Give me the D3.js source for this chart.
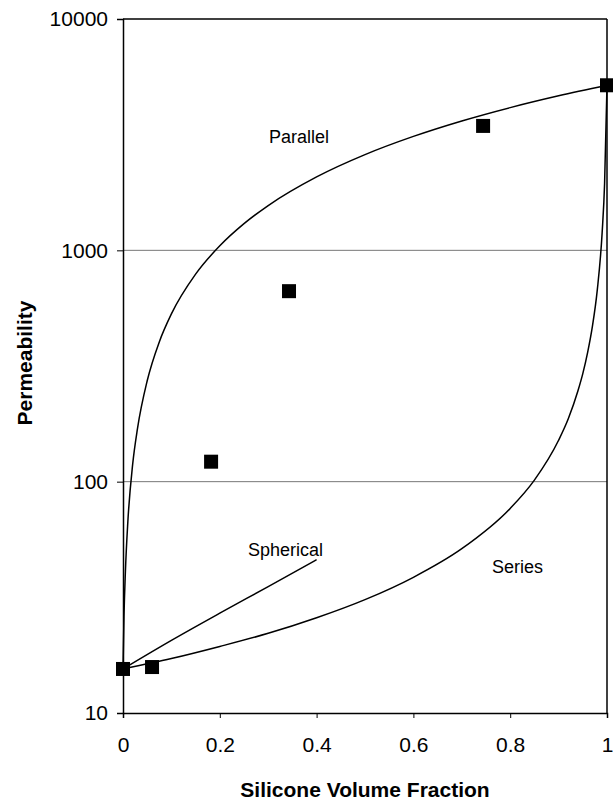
<!DOCTYPE html>
<html>
<head>
<meta charset="utf-8">
<script src="https://cdn.jsdelivr.net/npm/d3@7"></script>
<style>
  body { margin: 0; background: #fff; }
  text { font-family: Arial, "Liberation Sans", sans-serif; }
</style>
</head>
<body>
<script>
// measured points (silicone volume fraction, permeability)
var frac = [0, 0.06, 0.182, 0.343, 0.744, 1]
var perm = [15.5, 15.8, 122, 666, 3450, 5170]

// model curves
var parX = [0, 0.002, 0.005, 0.01, 0.02, 0.03, 0.05, 0.075, 0.1, 0.15, 0.2, 0.25, 0.3, 0.4, 0.5, 0.6, 0.7, 0.8, 0.9, 1]
var parY = [15.5, 26, 41, 67, 119, 170, 273, 402, 531, 789, 1046, 1304, 1562, 2077, 2593, 3108, 3624, 4139, 4655, 5170]

var serX = [0, 0.1, 0.2, 0.3, 0.4, 0.5, 0.6, 0.7, 0.8, 0.85, 0.9, 0.92, 0.94, 0.95, 0.96, 0.97, 0.98, 0.99, 0.995, 1]
var serY = [15.5, 17.2, 19.4, 22.1, 25.8, 30.9, 38.6, 51.3, 76.6, 101.6, 151, 187, 247, 293, 362, 471, 676, 1196, 1942, 5170]

var sphX = [0, 0.1, 0.2, 0.3, 0.4]
var sphY = [15.5, 20.6, 27, 35.2, 46]

var xTicks = [0, 0.2, 0.4, 0.6, 0.8, 1]
var yTicks = [10, 100, 1000, 10000]

const width = 613
const height = 802

var svg = d3.select("body").append("svg").attr("width", width).attr("height", height)

var x = d3.scaleLinear().domain([0, 1]).range([123, 607])
var y = d3.scaleLog().domain([10, 10000]).range([713, 19])

// gridlines
svg.selectAll(".grid").data([100, 1000]).enter().append("line")
    .attr("x1", x(0)).attr("x2", x(1))
    .attr("y1", (d) => y(d)).attr("y2", (d) => y(d))
    .attr("stroke", "#777").attr("stroke-width", 1)

// axes
var yAxis = svg.append("g").attr("transform", "translate(" + x(0) + ",0)")
    .call(d3.axisLeft(y).tickValues(yTicks).tickFormat(d3.format("d")).tickSize(6).tickPadding(9))
var xAxis = svg.append("g").attr("transform", "translate(0," + y(10) + ")")
    .call(d3.axisBottom(x).tickValues(xTicks).tickFormat((d) => d === 0 || d === 1 ? d : d3.format(".1f")(d)).tickSize(5).tickPadding(19))

svg.selectAll(".tick text").attr("font-size", 21).attr("fill", "#000")
    .style("font-family", "Arial, 'Liberation Sans', sans-serif")
svg.selectAll(".domain").attr("stroke", "#000").attr("stroke-width", 1.5)
svg.selectAll(".tick line").attr("stroke", "#000")

// box right + top
svg.append("line").attr("x1", x(0)).attr("x2", x(1)).attr("y1", y(10000)).attr("y2", y(10000))
    .attr("stroke", "#000").attr("stroke-width", 1.5)
svg.append("line").attr("x1", x(1)).attr("x2", x(1)).attr("y1", y(10000)).attr("y2", y(10))
    .attr("stroke", "#000").attr("stroke-width", 1.5)

var line = d3.line()
    .x((d) => x(d[0]))
    .y((d) => y(d[1]))
    .curve(d3.curveMonotoneX)

function drawCurve(xs, ys) {
    svg.append("path")
        .datum(d3.zip(xs, ys))
        .attr("fill", "none")
        .attr("stroke", "#000")
        .attr("stroke-width", 1.5)
        .attr("d", line)
}
drawCurve(parX, parY)
drawCurve(serX, serY)
drawCurve(sphX, sphY)

// measured squares
var sq = 14
svg.selectAll(".pt").data(d3.zip(frac, perm)).enter().append("rect")
    .attr("x", (d) => x(d[0]) - sq / 2)
    .attr("y", (d) => y(d[1]) - sq / 2)
    .attr("width", sq).attr("height", sq)
    .attr("fill", "#000")

// curve labels
svg.append("text").attr("x", 269).attr("y", 143).attr("font-size", 18).text("Parallel")
svg.append("text").attr("x", 248).attr("y", 556).attr("font-size", 18).text("Spherical")
svg.append("text").attr("x", 492).attr("y", 573).attr("font-size", 18).text("Series")

// axis titles
svg.append("text").attr("x", 365).attr("y", 797).attr("text-anchor", "middle")
    .attr("font-size", 21).attr("font-weight", "bold").text("Silicone Volume Fraction")
svg.append("text").attr("transform", "translate(32,363) rotate(-90)").attr("text-anchor", "middle")
    .attr("font-size", 21).attr("font-weight", "bold").text("Permeability")
</script>
</body>
</html>
